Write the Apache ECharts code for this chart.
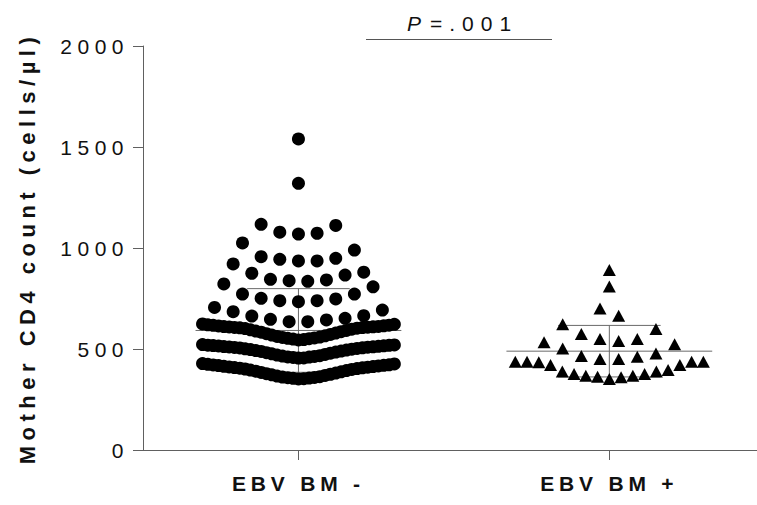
<!DOCTYPE html>
<html>
<head>
<meta charset="utf-8">
<script src="https://cdn.jsdelivr.net/npm/echarts@6/dist/echarts.min.js"></script>
<style>
html,body{margin:0;padding:0;background:#fff;}
#chart{width:757px;height:505px;}
</style>
</head>
<body>
<div id="chart"></div>
<script>
// ---------------- data ----------------
const categories = ['EBV BM -', 'EBV BM +'];
const yTicks = [0, 500, 1000, 1500, 2000];
const yAxisTitle = 'Mother CD4 count (cells/µl)';
const pLabel = ['P', '=.001'];

// Mother CD4 counts, EBV not detected in breast milk
const ebvMinus = [
  1540, 1320,
  1069, 1073, 1078, 1112, 1117,
  936, 936, 944, 949, 957, 990, 1025,
  835, 838, 842, 845, 866, 875, 880, 921,
  734, 739, 739, 748, 751, 772, 772, 808, 822,
  635, 635, 644, 647, 652, 663, 665, 685, 693, 706,
  545, 547, 549, 551, 553, 555, 557, 559, 562, 565, 569, 572, 576, 579, 583, 586, 589, 592,
  595, 598, 601, 603, 605, 606, 607, 608, 609, 610, 611, 612, 614, 615, 617, 618, 620, 622, 624,
  455, 456, 458, 460, 461, 463, 465, 467, 470, 473, 476, 479, 482, 485, 488, 490, 492, 495,
  497, 499, 501, 503, 505, 506, 508, 509, 510, 511, 512, 513, 515, 516, 517, 518, 519, 520, 522,
  352, 353, 355, 356, 358, 359, 361, 363, 366, 369, 372, 375, 378, 381, 384, 387, 390, 393,
  396, 399, 401, 403, 405, 407, 408, 410, 411, 413, 414, 416, 418, 419, 421, 422, 424, 426, 428
];

// Mother CD4 counts, EBV detected in breast milk
const ebvPlus = [
  891, 809, 701, 665,
  622, 599, 574, 550, 550, 540, 533, 523,
  503, 478, 465, 462, 450, 450,
  437, 437, 434, 421, 388, 376, 368, 363, 352, 360, 368, 376, 388, 396, 421, 437, 437
];

// ---------------- layout helpers ----------------
const groupCenters = [1, 3];
const FONT = '"Liberation Sans", Arial, Helvetica, sans-serif';

function swarm(values, center, binOrigin, binWidth, step, maxHalf) {
  const bins = {};
  values.forEach(v => {
    const b = Math.floor((v - binOrigin) / binWidth);
    (bins[b] = bins[b] || []).push(v);
  });
  const pts = [];
  Object.keys(bins).forEach(k => {
    const arr = bins[k].slice().sort((a, b) => a - b);
    const n = arr.length;
    const s = n > 1 ? Math.min(step, 2 * maxHalf / (n - 1)) : 0;
    arr.forEach((v, i) => {
      let off;
      if (n % 2 === 1) {
        if (i === 0) off = 0;
        else { const m = Math.ceil(i / 2); off = (i % 2 === 1 ? 1 : -1) * m * s; }
      } else {
        const m = Math.floor(i / 2); off = (i % 2 === 0 ? 1 : -1) * (m + 0.5) * s;
      }
      pts.push([center + off, v]);
    });
  });
  return pts;
}

function meanSd(arr) {
  const n = arr.length;
  const m = arr.reduce((a, b) => a + b, 0) / n;
  const v = arr.reduce((a, b) => a + (b - m) * (b - m), 0) / (n - 1);
  return [m, Math.sqrt(v)];
}

const minusPts = swarm(ebvMinus, groupCenters[0], 30, 100, 0.12, 0.617);
const plusPts = swarm(ebvPlus, groupCenters[1], 40, 100, 0.12, 0.605);
const statsData = [
  [groupCenters[0]].concat(meanSd(ebvMinus)),
  [groupCenters[1]].concat(meanSd(ebvPlus))
];

const chart = echarts.init(document.getElementById('chart'), null, {renderer: 'svg'});

const option = {
  animation: false,
  backgroundColor: '#ffffff',
  grid: {left: 143, right: 0, top: 46, bottom: 55, containLabel: false, outerBoundsMode: 'none'},
  xAxis: {
    type: 'value', min: 0, max: 3.95,
    axisLine: {show: true, lineStyle: {color: '#606060', width: 1}},
    axisTick: {show: true, length: 10, customValues: groupCenters, lineStyle: {color: '#606060', width: 1}},
    axisLabel: {
      show: true, customValues: groupCenters, margin: 23,
      formatter: v => categories[groupCenters.indexOf(v)] || '',
      color: '#111', fontSize: 21, fontWeight: 'bold', fontFamily: FONT
    },
    splitLine: {show: false}
  },
  yAxis: {
    type: 'value', min: yTicks[0], max: yTicks[yTicks.length - 1], interval: yTicks[1] - yTicks[0],
    name: yAxisTitle, nameLocation: 'middle', nameRotate: 90, nameGap: 105,
    nameTextStyle: {color: '#111', fontSize: 22, fontWeight: 'bold', fontFamily: FONT},
    axisLine: {show: true, lineStyle: {color: '#606060', width: 1}},
    axisTick: {show: true, length: 10, inside: false, lineStyle: {color: '#606060', width: 1}},
    axisLabel: {show: true, margin: 14, color: '#111', fontSize: 21, fontFamily: FONT,
      formatter: v => String(v)},
    splitLine: {show: false}
  },
  graphic: [
    {type: 'line', shape: {x1: 366, y1: 39.5, x2: 552, y2: 39.5}, style: {stroke: '#555', lineWidth: 1}, silent: true},
    {type: 'text', x: 407, y: 23, style: {text: pLabel[0], fill: '#111', font: 'italic 21px ' + FONT, textAlign: 'left', textVerticalAlign: 'middle'}, silent: true},
    {type: 'text', x: 430, y: 23, style: {text: pLabel[1], fill: '#111', font: '21px ' + FONT, textAlign: 'left', textVerticalAlign: 'middle'}, silent: true}
  ],
  series: [
    {
      type: 'custom', name: 'meanSD', z: 1, silent: true,
      data: statsData,
      encode: {x: 0, y: 1},
      renderItem: function (params, api) {
        const cx = api.value(0), m = api.value(1), sd = api.value(2);
        const st = {stroke: '#6a6a6a', lineWidth: 1, fill: null};
        const seg = (xa, ya, xb, yb) => {
          const a = api.coord([xa, ya]), b = api.coord([xb, yb]);
          return {type: 'line', shape: {x1: a[0], y1: a[1], x2: b[0], y2: b[1]}, style: st};
        };
        return {type: 'group', children: [
          seg(cx - 0.662, m, cx + 0.662, m),
          seg(cx - 0.33, m + sd, cx + 0.33, m + sd),
          seg(cx - 0.33, m - sd, cx + 0.33, m - sd),
          seg(cx, m - sd, cx, m + sd)
        ]};
      }
    },
    {
      type: 'scatter', name: categories[0], z: 3, silent: true,
      symbol: 'circle', symbolSize: 13,
      itemStyle: {color: '#000', opacity: 1},
      data: minusPts
    },
    {
      type: 'scatter', name: categories[1], z: 3, silent: true,
      symbol: 'triangle', symbolSize: [13, 12],
      itemStyle: {color: '#000', opacity: 1},
      data: plusPts
    }
  ]
};

chart.setOption(option);

function spaceText() {
  document.querySelectorAll('#chart text').forEach(t => {
    const s = (t.textContent || '').trim();
    let ls = 0;
    if (/^\d+$/.test(s)) ls = 5.5;
    else if (s.indexOf('EBV') === 0) ls = 4.8;
    else if (s.indexOf('Mother') === 0) ls = 5.5;
    else if (s === pLabel[1]) ls = 7;
    if (ls) t.style.letterSpacing = ls + 'px';
  });
}
spaceText();
chart.on('finished', spaceText);
</script>
</body>
</html>
